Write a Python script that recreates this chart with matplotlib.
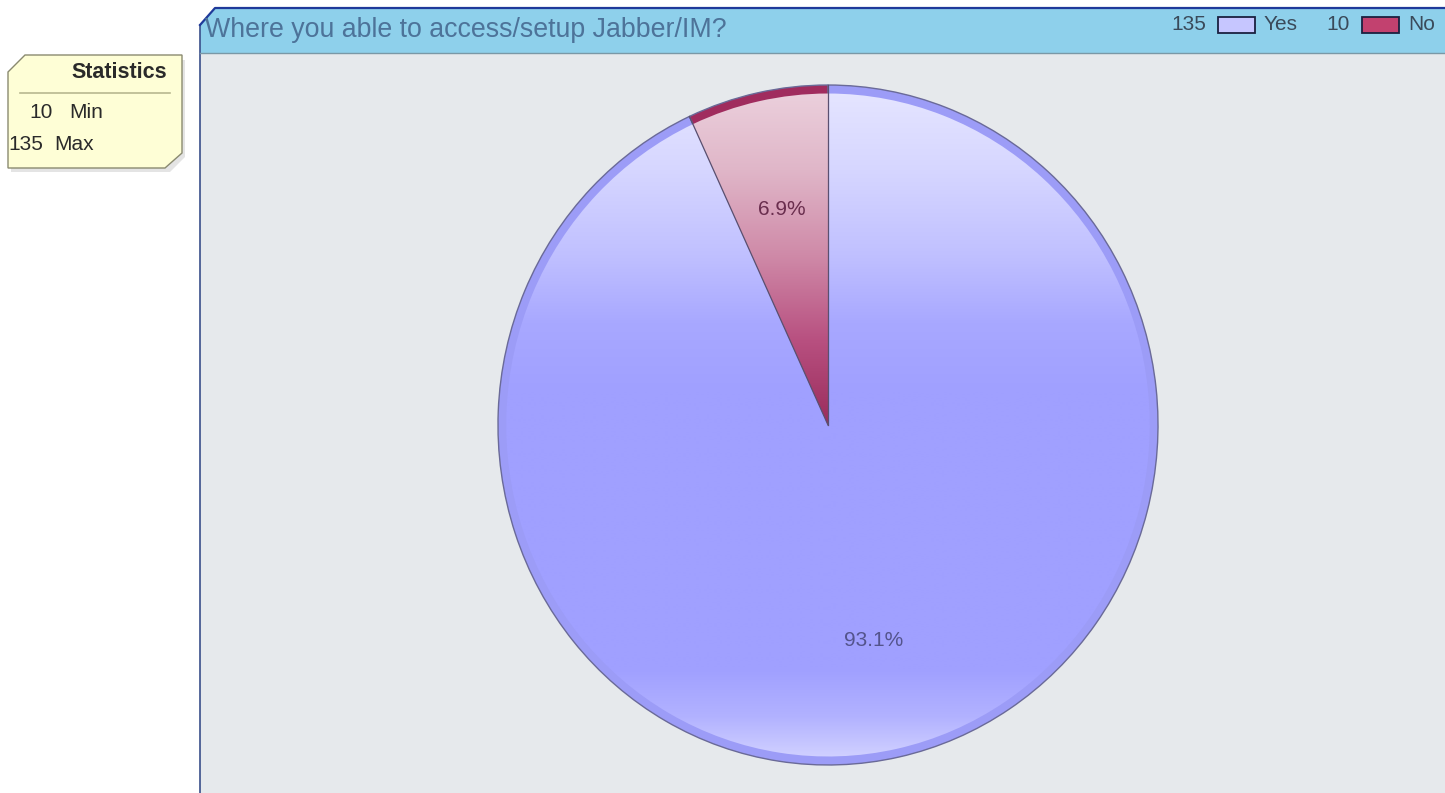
import numpy as np
import matplotlib
matplotlib.use("Agg")
import matplotlib.pyplot as plt
from matplotlib.patches import Polygon, Rectangle
from matplotlib.colors import to_rgba

# ---------------- data ----------------
title = "Where you able to access/setup Jabber/IM?"
categories = ["Yes", "No"]
counts = [135, 10]
stat_names = ["Min", "Max"]
stat_values = [10, 135]

# ---------------- style ----------------
plt.rcParams['font.family'] = ['Liberation Sans', 'DejaVu Sans']
W, H = 1445, 793
fig = plt.figure(figsize=(W / 100, H / 100), dpi=100)
fig.patch.set_facecolor("white")

bg = fig.add_axes([0, 0, 1, 1])
bg.set_xlim(0, W)
bg.set_ylim(H, 0)
bg.axis('off')

# plot area background
bg.add_patch(Rectangle((200, 53), W - 200, H - 53, facecolor='#e6e9ec', edgecolor='none', zorder=0))
bg.plot([200, 200], [25, H], color='#3a4f8a', lw=1.2, zorder=2)

# title bar
bg.add_patch(Polygon([(200, 25), (215, 8), (W, 8), (W, 53), (200, 53)], closed=True,
                     facecolor='#8ed0eb', edgecolor='none', zorder=1))
bg.plot([200, 215, W], [25, 8, 8], color='#1f3a9a', lw=1.6, zorder=2)
bg.plot([200, W], [53, 53], color='#7a98a6', lw=1, zorder=2)
bg.text(205, 30, title, fontsize=19.3, color='#4d7399', va='center', ha='left', zorder=3)

# legend in title bar
legend_fill = ['#c6c6ff', '#c2416f']
legend_x = [1206, 1350]
for cat, cnt, fc, lx in zip(categories, counts, legend_fill, legend_x):
    bg.text(lx, 24, str(cnt), fontsize=15, color='#3a4a5a', ha='right', va='center', zorder=3)
    bg.add_patch(Rectangle((lx + 12, 17), 37, 16, facecolor=fc, edgecolor='#1a2040', lw=1.3, zorder=3))
    bg.text(lx + 58, 24, cat, fontsize=15, color='#3a4a5a', ha='left', va='center', zorder=3)

# statistics box
bg.add_patch(Polygon([(11, 75), (27, 60), (185, 60), (185, 157), (170, 172), (11, 172)], closed=True,
                     facecolor='#e4e4e4', edgecolor='none', zorder=1))
bg.add_patch(Polygon([(8, 72), (25, 55), (182, 55), (182, 153), (165, 168), (8, 168)], closed=True,
                     facecolor='#fefed6', edgecolor='#8a8a70', lw=1, zorder=2))
bg.text(167, 73, "Statistics", fontsize=15.5, fontweight='bold', color='#2a2a2a', ha='right', va='center', zorder=3)
bg.plot([20, 170], [93, 93], color='#b8b890', lw=1.2, zorder=3)
num_right = [53, 43]
name_left = [69, 54]
for i, (nm, val) in enumerate(zip(stat_names, stat_values)):
    y = 113 + i * 32
    bg.text(num_right[i], y, str(val), fontsize=15, color='#2a2a2a', ha='right', va='center', zorder=3)
    bg.text(name_left[i], y, nm, fontsize=15, color='#2a2a2a', ha='left', va='center', zorder=3)

# ---------------- pie ----------------
pax = fig.add_axes([497 / W, 1 - 766 / H, 662 / W, 682 / H])
rim_colors = ['#9c9cf7', '#a02c5e']
wedges, _, autotexts = pax.pie(counts, radius=1, startangle=90, counterclock=False,
                               colors=rim_colors, autopct='%.1f%%', pctdistance=0.65,
                               wedgeprops=dict(edgecolor='#6a6a98', linewidth=1.0))
inner, _ = pax.pie(counts, radius=0.975, startangle=90, counterclock=False,
                   colors=['none', 'none'], wedgeprops=dict(edgecolor='none', linewidth=0))
pax.axis('off')


def vgrad(stops, n=500):
    ys = np.linspace(1, -1, n)
    pos = np.array([s[0] for s in stops])[::-1]
    cols = np.array([to_rgba(s[1]) for s in stops])[::-1]
    arr = np.zeros((n, 1, 4))
    for c in range(4):
        arr[:, 0, c] = np.interp(ys, pos, cols[:, c])
    return arr


grad_stops = [
    [(1.0, '#e6e6ff'), (0.75, '#d6d6ff'), (0.5, '#c0c0ff'), (0.3, '#a8a8ff'),
     (0.1, '#a0a0ff'), (-0.72, '#a0a0ff'), (-0.86, '#b2b2ff'), (-1.0, '#d6d6ff')],
    [(1.0, '#ecd2de'), (0.75, '#e0b6c8'), (0.5, '#cf8aa8'), (0.25, '#b85080'),
     (0.0, '#9a2c5c'), (-1.0, '#9a2c5c')],
]
for w, stops in zip(inner, grad_stops):
    im = pax.imshow(vgrad(stops), extent=(-1, 1, -1, 1), aspect='auto',
                    interpolation='bilinear', zorder=2)
    im.set_clip_path(w)

# radial separators
for w in wedges:
    t = np.deg2rad(w.theta1)
    pax.plot([0, np.cos(t)], [0, np.sin(t)], color='#5a5070', lw=0.9, zorder=4)

pct_colors = ['#54548c', '#6a2e4e']
for t, c in zip(autotexts, pct_colors):
    t.set_color(c)
    t.set_fontsize(15)
    t.set_zorder(6)

pax.set_aspect('auto')
pax.set_xlim(-1.003, 1.003)
pax.set_ylim(-1.003, 1.003)

fig.savefig("out.png", dpi=100, facecolor=fig.get_facecolor())
